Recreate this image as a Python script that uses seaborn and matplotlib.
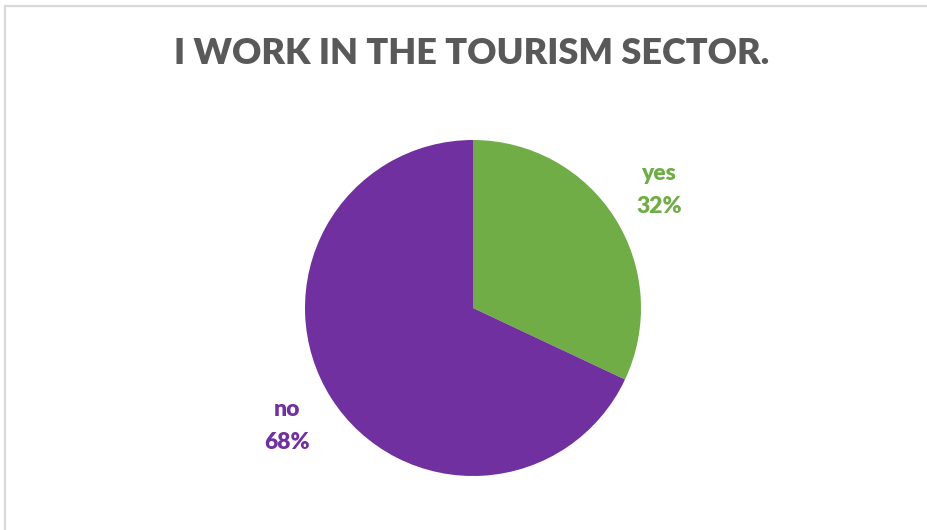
import matplotlib
matplotlib.use("Agg")
import matplotlib.pyplot as plt
import seaborn as sns
from matplotlib.patches import Rectangle

sns.set_theme(style="white")
plt.rcParams["font.family"] = ["Lato", "DejaVu Sans"]

categories = ["yes", "no"]
shares = [32, 68]
colors = ["#70AD47", "#7030A0"]
title = "I WORK IN THE TOURISM SECTOR."

W, H = 928, 530
fig = plt.figure(figsize=(W / 100, H / 100), dpi=100)
fig.patch.set_facecolor("white")

# chart-area frame
fig.add_artist(Rectangle((5.5 / W, -0.01), 1.02, 1 - 5.5 / H + 0.01,
                         transform=fig.transFigure, fill=False,
                         edgecolor="#D9D9D9", linewidth=1.6))

cx, cy, r = 473, 308, 168
ax = fig.add_axes([(cx - r) / W, (H - cy - r) / H, 2 * r / W, 2 * r / H])
labels = [f"{c}\n{v}%" for c, v in zip(categories, shares)]
wedges, texts = ax.pie(shares, colors=colors, startangle=90, counterclock=False,
                       labels=labels, labeldistance=1.31, radius=1,
                       wedgeprops=dict(linewidth=0))
for t, c in zip(texts, colors):
    t.set_color(c)
    t.set_fontsize(16.5)
    t.set_fontweight("heavy")
    t.set_ha("center")
    t.set_va("center")
    t.set_linespacing(1.75)
ax.set_xlim(-1, 1)
ax.set_ylim(-1, 1)
ax.set_aspect("equal")
ax.axis("off")

fig.text(472 / W, 1 - 53 / H, title, ha="center", va="center",
         fontsize=26, fontweight="heavy", color="#595959")

fig.savefig("out.png", dpi=100, facecolor="white")
